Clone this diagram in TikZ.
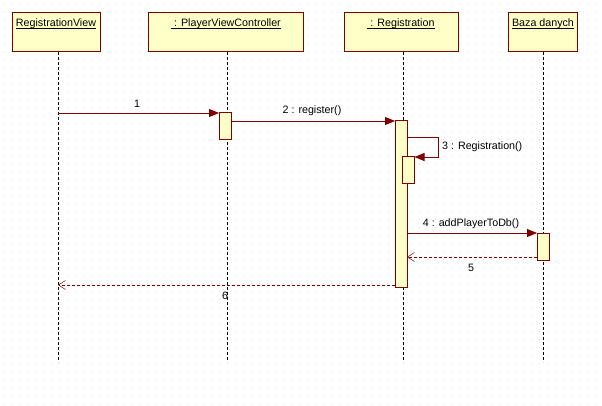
\documentclass[tikz,border=0pt]{standalone}
\usepackage{fontspec}
\setmainfont{Liberation Sans}
\usetikzlibrary{arrows.meta}
\definecolor{umlred}{RGB}{128,0,0}
\definecolor{umlfill}{RGB}{255,255,200}
\definecolor{griddot}{RGB}{225,225,225}
\tikzset{
  objbox/.style={draw=umlred, fill=umlfill, line width=1pt},
  actbar/.style={draw=umlred, fill=umlfill, line width=1pt},
  lifeline/.style={draw=black, line width=0.8pt, dash pattern=on 3pt off 2pt},
  callmsg/.style={draw=umlred, line width=0.8pt, -{Triangle[length=10pt,width=8pt,fill=umlred]}},
  retmsg/.style={draw=umlred, line width=0.6pt, dash pattern=on 3pt off 2pt, -{Straight Barb[length=7pt,width=9pt,line width=0.5pt]}},
  lbl/.style={font=\fontsize{10.7}{12}\selectfont, inner sep=0pt, text=black},
  uline/.style={draw=black, line width=0.8pt},
}
\begin{document}
\begin{tikzpicture}[x=1pt,y=-1pt]
\useasboundingbox (0,0) rectangle (602,406);
\fill[white] (0,0) rectangle (602,406);
\foreach \i in {0,...,75} {
  \foreach \j in {0,...,50} {
    \fill[griddot] (\i*8+3,\j*8+3) rectangle ++(1,1);
  }
}
% object boxes
\draw[objbox] (12,13) rectangle (100,52);
\draw[objbox] (148,13) rectangle (303,52);
\draw[objbox] (344,13) rectangle (458,52);
\draw[objbox] (508,13) rectangle (577,52);
\node[lbl] (rv) at (56,24) {RegistrationView};
\node[lbl] (pvc) at (226,24) {\ : PlayerViewController};
\node[lbl] (reg) at (401,24) {\ : Registration};
\node[lbl] (db) at (543,24) {Baza danych};
\foreach \n in {rv,pvc,reg,db} {
  \draw[uline] ([yshift=-2pt]\n.base west) -- ([yshift=-2pt]\n.base east);
}
% lifeline coordinates
\coordinate (rvT) at (58,52);   \coordinate (rvB) at (58,362);
\coordinate (pvcT) at (227,52); \coordinate (pvcB) at (227,362);
\coordinate (regT) at (403,52); \coordinate (regB) at (403,362);
\coordinate (dbT) at (543,52);  \coordinate (dbB) at (543,362);
\draw[lifeline] (rvT) -- (rvB);
\draw[lifeline] (pvcT) -- (pvcB);
\draw[lifeline] (regT) -- (regB);
\draw[lifeline] (dbT) -- (dbB);
% activation bars
\draw[actbar] (219,113) rectangle (231,140);
\draw[actbar] (395,121) rectangle (407,287);
\draw[actbar] (402,157) rectangle (414.5,184);
\draw[actbar] (537,233) rectangle (549,260);
% messages
\coordinate (m1s) at (58,113);  \coordinate (m1e) at (219,113);
\draw[callmsg] (m1s) -- (m1e);
\node[lbl] (l1) at (137,104) {1};
\coordinate (m2s) at (231,121); \coordinate (m2e) at (395,121);
\draw[callmsg] (m2s) -- (m2e);
\node[lbl] (l2) at (312,111) {2 : register()};
\coordinate (m3s) at (407,137); \coordinate (m3a) at (438.5,137);
\coordinate (m3b) at (438.5,157); \coordinate (m3e) at (414.5,157);
\draw[callmsg] (m3s) -- (m3a) -- (m3b) -- (m3e);
\node[lbl, anchor=west] (l3) at (442,147) {3 : Registration()};
\coordinate (m4s) at (407,233); \coordinate (m4e) at (537,233);
\draw[callmsg] (m4s) -- (m4e);
\node[lbl] (l4) at (471,224) {4 : addPlayerToDb()};
\coordinate (m5s) at (537,257); \coordinate (m5e) at (407,257);
\draw[retmsg] (m5s) -- (m5e);
\node[lbl] (l5) at (471,268) {5};
\coordinate (m6s) at (395,285); \coordinate (m6e) at (58,285);
\draw[retmsg] (m6s) -- (m6e);
\node[lbl] (l6) at (225,296) {6};
\end{tikzpicture}
\end{document}
